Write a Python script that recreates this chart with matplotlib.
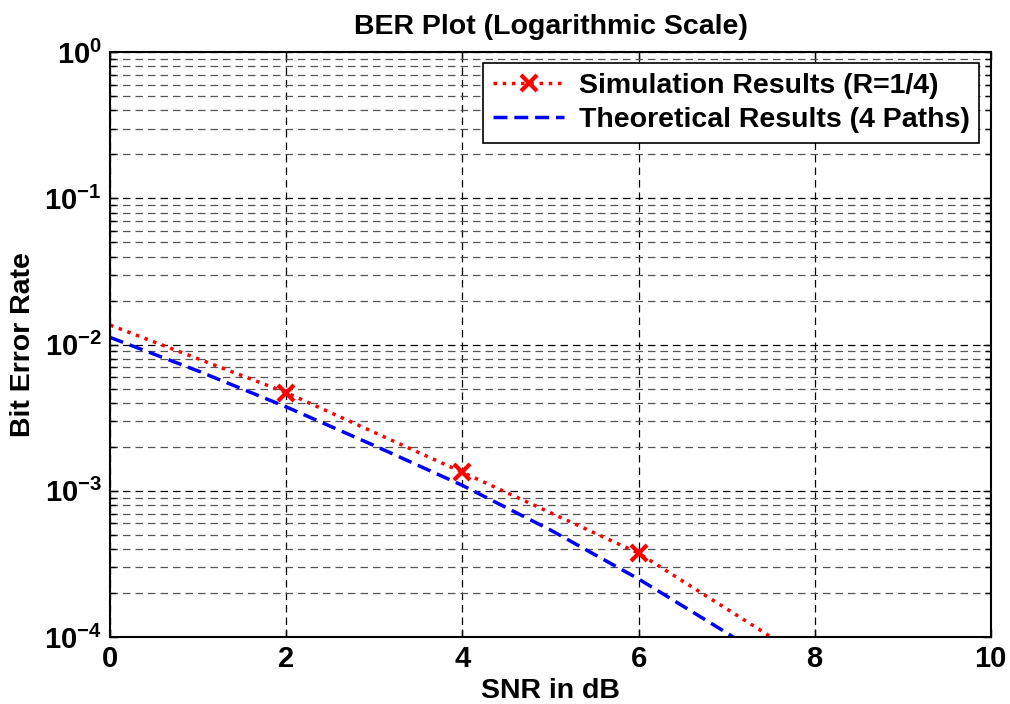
import numpy as np
import matplotlib
matplotlib.use('Agg')
import matplotlib.pyplot as plt
from matplotlib.ticker import LogLocator, FixedLocator

plt.rcParams['font.family'] = ['Liberation Sans', 'DejaVu Sans']
plt.rcParams['font.weight'] = 'bold'
plt.rcParams['mathtext.fontset'] = 'custom'
plt.rcParams['mathtext.rm'] = 'Liberation Sans:bold'
plt.rcParams['mathtext.bf'] = 'Liberation Sans:bold'
plt.rcParams['mathtext.default'] = 'bf'
plt.rcParams['axes.unicode_minus'] = False

# simulated BER at the marker SNRs
sim_snr = [0, 2, 4, 6, 8]
sim_ber = [1.36e-2, 4.7e-3, 1.34e-3, 3.75e-4, 6.5e-5]

# theoretical curve (4 paths)
theo_snr = [0, 1, 2, 3, 4, 5, 6, 7, 8]
theo_ber = [1.12e-2, 6.6e-3, 3.75e-3, 2.04e-3, 1.09e-3, 5.4e-4, 2.5e-4, 1.07e-4, 4.4e-5]

x_ticks = [0, 2, 4, 6, 8, 10]

fig = plt.figure(figsize=(10.1, 7.04), dpi=100)
ax = fig.add_axes([0.109, 0.095, 0.872, 0.831])

ax.semilogy(sim_snr, sim_ber, color='red', linestyle=':', linewidth=2.5,
            marker='x', markersize=11, markeredgewidth=3, markevery=[1, 2, 3],
            label='Simulation Results (R=1/4)')
ax.semilogy(theo_snr, theo_ber, color='blue', linestyle=(0, (4, 2)), linewidth=2.5,
            label='Theoretical Results (4 Paths)')

ax.set_xlim(0, 10)
ax.set_ylim(1e-4, 1)
ax.xaxis.set_major_locator(FixedLocator(x_ticks))
ax.yaxis.set_major_locator(LogLocator(base=10, numticks=10))
ax.yaxis.set_minor_locator(LogLocator(base=10, subs=np.arange(2, 10), numticks=20))

ax.grid(True, which='major', color='black', linestyle=(0, (6, 4)), linewidth=0.9)
ax.grid(True, which='minor', axis='y', color='#555555', linestyle=(0, (6, 4)), linewidth=0.9)
ax.tick_params(which='both', direction='in', top=True, right=True, labelsize=21)
ax.tick_params(which='major', length=6, width=1, pad=6)
ax.tick_params(which='minor', length=4, width=1)
for sp in ax.spines.values():
    sp.set_linewidth(1.5)

ax.set_title('BER Plot (Logarithmic Scale)', fontsize=20.5, fontweight='bold', pad=13)
ax.set_xlabel('SNR in dB', fontsize=20.5, fontweight='bold', labelpad=3)
ax.set_ylabel('Bit Error Rate', fontsize=20.5, fontweight='bold', labelpad=6)

leg = ax.legend(loc='upper right', fontsize=20.5, fancybox=False, framealpha=1,
                edgecolor='black', handlelength=2.5, handletextpad=0.5,
                borderaxespad=0.4, labelspacing=0.25, borderpad=0.35)
leg.get_frame().set_linewidth(1.2)

fig.savefig('out.png', dpi=100)
